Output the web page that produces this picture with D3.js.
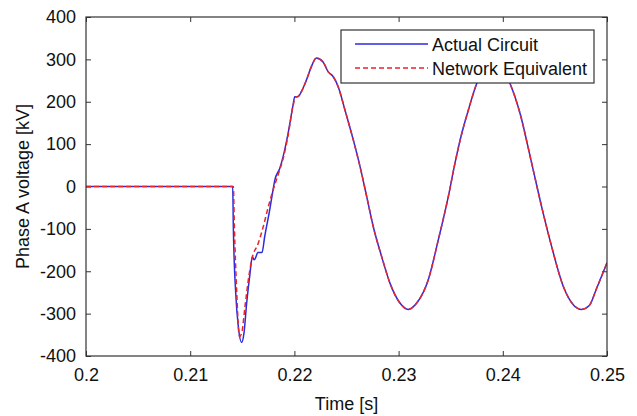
<!DOCTYPE html>
<html>
<head>
<meta charset="utf-8">
<script src="https://cdn.jsdelivr.net/npm/d3@7"></script>
<style>
  html, body { margin: 0; padding: 0; background: #fff; }
  svg { display: block; }
  text { font-family: Arial, "Liberation Sans", sans-serif; fill: #111; }
</style>
</head>
<body>
<svg id="chart" width="637" height="416"></svg>
<script>
// Time axis [s] and voltage [kV] samples
const actualTime = [0.2000, 0.21408, 0.21414, 0.21437, 0.21462, 0.21494, 0.21516, 0.21542, 0.21574,
  0.21596, 0.21615, 0.21651, 0.21689, 0.21715, 0.21763, 0.21795, 0.21812, 0.21860, 0.21891, 0.21939,
  0.21987, 0.22003, 0.22035, 0.22067, 0.22115, 0.22163, 0.22211, 0.22275, 0.22323, 0.22373, 0.22421,
  0.22486, 0.22565, 0.22630, 0.22694, 0.22757, 0.22838, 0.22917, 0.23013, 0.23093, 0.23174, 0.23285,
  0.23381, 0.23477, 0.23541, 0.23606, 0.23669, 0.23750, 0.23830, 0.23909, 0.23990, 0.24069, 0.24165,
  0.24277, 0.24373, 0.24469, 0.24581, 0.24680, 0.24757, 0.24830, 0.24901, 0.2500];
const actualVolt = [0, 0, -95, -252, -331, -368, -346, -275, -205,
  -166, -173, -156, -156, -118, -55, -8, 15, 43, 70, 125,
  192, 212, 212, 224, 251, 283, 303, 294, 271, 259, 235,
  180, 110, 47, -24, -95, -166, -228, -275, -290, -275, -220,
  -126, -24, 55, 125, 180, 243, 281, 292, 281, 243, 173,
  55, -48, -142, -236, -280, -290, -281, -240, -180];

const equivTime = [0.2000, 0.21414, 0.21424, 0.21447, 0.21472, 0.21494, 0.21526, 0.21558, 0.21590,
  0.21653, 0.21701, 0.21749, 0.21800, 0.21860, 0.21891, 0.21939, 0.21987, 0.22010, 0.22035, 0.22067,
  0.22115, 0.22163, 0.22211, 0.22275, 0.22323, 0.22373, 0.22421,
  0.22486, 0.22565, 0.22630, 0.22694, 0.22757, 0.22838, 0.22917, 0.23013, 0.23093, 0.23174, 0.23285,
  0.23381, 0.23477, 0.23541, 0.23606, 0.23669, 0.23750, 0.23830, 0.23909, 0.23990, 0.24069, 0.24165,
  0.24277, 0.24373, 0.24469, 0.24581, 0.24680, 0.24757, 0.24830, 0.24901, 0.2500];
const equivVolt = [0, 0, -95, -252, -354, -346, -283, -220, -173,
  -134, -95, -48, -5, 40, 65, 120, 190, 210, 213, 224,
  251, 283, 303, 294, 271, 259, 235,
  180, 110, 47, -24, -95, -166, -228, -275, -290, -275, -220,
  -126, -24, 55, 125, 180, 243, 281, 292, 281, 243, 173,
  55, -48, -142, -236, -280, -290, -281, -240, -180];

const xTicks = [0.2, 0.21, 0.22, 0.23, 0.24, 0.25];
const xTickLabels = ["0.2", "0.21", "0.22", "0.23", "0.24", "0.25"];
const yTicks = [-400, -300, -200, -100, 0, 100, 200, 300, 400];
const yTickLabels = ["-400", "-300", "-200", "-100", "0", "100", "200", "300", "400"];
const seriesNames = ["Actual Circuit", "Network Equivalent"];
const seriesColors = ["#2a2ae0", "#e8262a"];

const svg = d3.select("#chart");
const margin = { left: 86, right: 30, top: 17, bottom: 60 };
const W = 637, H = 416;
const x = d3.scaleLinear().domain([0.2, 0.25]).range([margin.left, W - margin.right]);
const y = d3.scaleLinear().domain([-400, 400]).range([H - margin.bottom, margin.top]);

const plotW = x.range()[1] - x.range()[0];
const plotH = y.range()[0] - y.range()[1];
const tickLen = 5;
const fontSize = 18;

svg.append("defs").append("clipPath").attr("id", "plotclip")
  .append("rect").attr("x", margin.left).attr("y", margin.top).attr("width", plotW).attr("height", plotH);

// Bottom and left axes with inward ticks
const xAxis = d3.axisBottom(x).tickValues(xTicks).tickSizeInner(-tickLen).tickSizeOuter(0)
  .tickPadding(12).tickFormat((d, i) => xTickLabels[i]);
const yAxis = d3.axisLeft(y).tickValues(yTicks).tickSizeInner(-tickLen).tickSizeOuter(0)
  .tickPadding(10).tickFormat((d, i) => yTickLabels[i]);
// Mirrored ticks on top and right
const xTop = d3.axisTop(x).tickValues(xTicks).tickSizeInner(-tickLen).tickSizeOuter(0).tickFormat("");
const yRight = d3.axisRight(y).tickValues(yTicks).tickSizeInner(-tickLen).tickSizeOuter(0).tickFormat("");

function styleAxis(g) {
  g.select(".domain").remove();
  g.selectAll("line").attr("stroke", "#333").attr("stroke-width", 1);
  g.selectAll("text").attr("font-size", fontSize).attr("fill", "#111")
    .attr("font-family", "Arial, 'Liberation Sans', sans-serif");
}

svg.append("g").attr("transform", `translate(0,${y(-400)})`).call(xAxis).call(styleAxis);
svg.append("g").attr("transform", `translate(${x(0.2)},0)`).call(yAxis).call(styleAxis);
svg.append("g").attr("transform", `translate(0,${y(400)})`).call(xTop).call(styleAxis);
svg.append("g").attr("transform", `translate(${x(0.25)},0)`).call(yRight).call(styleAxis);

// Curves (monotone interpolation keeps the flat pre-fault stretch flat)
const line = d3.line().x(d => x(d[0])).y(d => y(d[1])).curve(d3.curveMonotoneX);
const actual = actualTime.map((t, i) => [t, actualVolt[i]]);
const equiv = equivTime.map((t, i) => [t, equivVolt[i]]);

const plot = svg.append("g").attr("clip-path", "url(#plotclip)");
plot.append("path").datum(actual).attr("d", line)
  .attr("fill", "none").attr("stroke", seriesColors[0]).attr("stroke-width", 1.5);
plot.append("path").datum(equiv).attr("d", line)
  .attr("fill", "none").attr("stroke", seriesColors[1]).attr("stroke-width", 1.5)
  .attr("stroke-dasharray", "5,3");

// Frame
svg.append("rect").attr("x", margin.left).attr("y", margin.top).attr("width", plotW).attr("height", plotH)
  .attr("fill", "none").attr("stroke", "#333").attr("stroke-width", 1.2);

// Axis titles
svg.append("text").attr("x", (x.range()[0] + x.range()[1]) / 2).attr("y", 410)
  .attr("text-anchor", "middle").attr("font-size", fontSize).text("Time [s]");
svg.append("text").attr("transform", `translate(29,${(y.range()[0] + y.range()[1]) / 2}) rotate(-90)`)
  .attr("text-anchor", "middle").attr("font-size", fontSize).text("Phase A voltage [kV]");

// Legend
const legend = svg.append("g");
legend.append("rect").attr("x", 341).attr("y", 30).attr("width", 253).attr("height", 53)
  .attr("fill", "#fff").attr("stroke", "#333").attr("stroke-width", 1.2);
const legendRows = [44, 68];
seriesNames.forEach((name, i) => {
  legend.append("line").attr("x1", 355).attr("x2", 428).attr("y1", legendRows[i]).attr("y2", legendRows[i])
    .attr("stroke", seriesColors[i]).attr("stroke-width", 1.5)
    .attr("stroke-dasharray", i === 1 ? "5,3" : null);
  legend.append("text").attr("x", 432).attr("y", legendRows[i] + 7)
    .attr("font-size", fontSize).text(name);
});
</script>
</body>
</html>
